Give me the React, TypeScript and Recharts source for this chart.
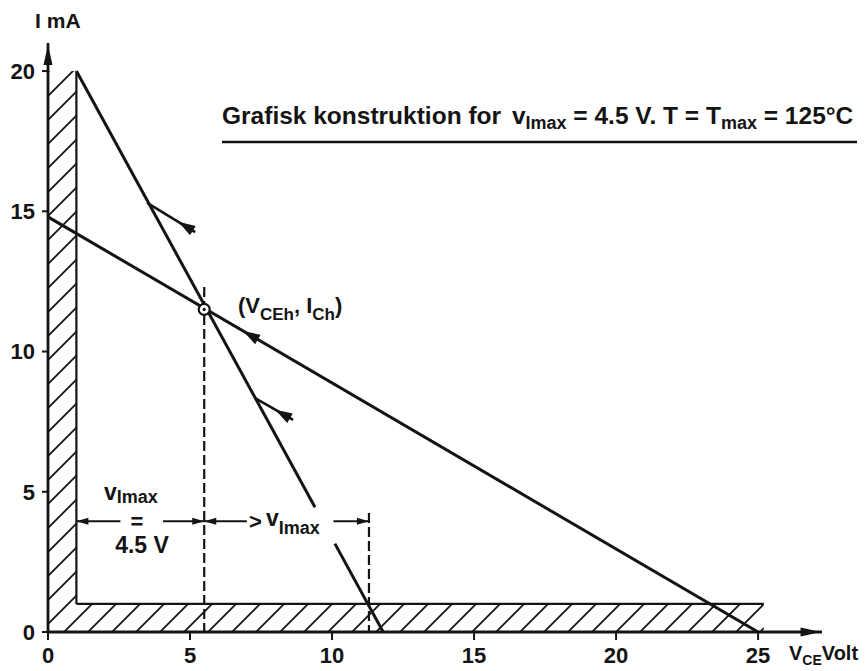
import {
  ComposedChart,
  Line,
  XAxis,
  YAxis,
  ReferenceArea,
  ReferenceLine,
  ReferenceDot,
} from "recharts";

const INK = "#141414";
const FONT = "'Liberation Sans', Arial, sans-serif";

const VCE_TICKS = [0, 5, 10, 15, 20, 25];
const I_TICKS = [0, 5, 10, 15, 20];

// steep characteristic, broken where the v_Imax label sits
const steepUpper = [
  { v: 1, i: 20 },
  { v: 9.4, i: 4.45 },
];
const steepLower = [
  { v: 10.1, i: 3.15 },
  { v: 11.8, i: 0 },
];
// load line
const loadLine = [
  { v: 0, i: 14.8 },
  { v: 25, i: 0 },
];
const opPoint = { v: 5.5, i: 11.5 };
const vImaxEdge = 11.3;
const dimLevel = 3.95;

// small direction arrows (parallel to the load line)
const dirMarks = [
  { from: { v: 3.49, i: 15.3 }, to: { v: 5.18, i: 14.26 }, tip: 0.65, line: true },
  { from: { v: 7.29, i: 8.34 }, to: { v: 8.63, i: 7.56 }, tip: 0.53, line: true },
  { from: { v: 6.87, i: 10.73 }, to: { v: 7.4, i: 10.42 }, tip: 0, line: false },
];

// dimension arrows: v_Imax = 4.5 V and > v_Imax
const dims = [
  { a: 1, b: 2.55, headA: true, headB: false },
  { a: 4.05, b: 5.5, headA: false, headB: true },
  { a: 5.5, b: 7.0, headA: true, headB: false },
  { a: 10.05, b: vImaxEdge, headA: false, headB: true },
];

function head(tx: number, ty: number, ux: number, uy: number, len: number, half: number) {
  // arrowhead with tip (tx,ty) pointing along unit (ux,uy)
  const bx = tx - ux * len;
  const by = ty - uy * len;
  const px = -uy * half;
  const py = ux * half;
  return `M${tx},${ty} L${bx + px},${by + py} L${bx - px},${by - py} Z`;
}

const dirShape = (tip: number, line: boolean) => (p: any) => {
  const { x1, y1, x2, y2 } = p;
  const dx = x1 - x2;
  const dy = y1 - y2;
  const d = Math.hypot(dx, dy) || 1;
  const tx = x1 + (x2 - x1) * tip;
  const ty = y1 + (y2 - y1) * tip;
  return (
    <g>
      {line && <line x1={x1} y1={y1} x2={x2} y2={y2} stroke={INK} strokeWidth={2.6} />}
      <path d={head(tx, ty, dx / d, dy / d, 17, 5.5)} fill={INK} />
    </g>
  );
};

const dimShape = (headA: boolean, headB: boolean) => (p: any) => {
  const { x1, y1, x2, y2 } = p;
  const d = Math.hypot(x2 - x1, y2 - y1) || 1;
  const ux = (x2 - x1) / d;
  const uy = (y2 - y1) / d;
  return (
    <g>
      <line x1={x1} y1={y1} x2={x2} y2={y2} stroke={INK} strokeWidth={2} />
      {headA && <path d={head(x1, y1, -ux, -uy, 12, 3.5)} fill={INK} />}
      {headB && <path d={head(x2, y2, ux, uy, 12, 3.5)} fill={INK} />}
    </g>
  );
};

const axisHead = (p: any) => {
  const { x1, y1, x2, y2 } = p;
  const d = Math.hypot(x2 - x1, y2 - y1) || 1;
  return <path d={head(x2, y2, (x2 - x1) / d, (y2 - y1) / d, 20, 4.5)} fill={INK} />;
};

const opShape = (p: any) => (
  <g>
    <circle cx={p.cx} cy={p.cy} r={5.5} fill="#fff" stroke={INK} strokeWidth={2.2} />
    <circle cx={p.cx} cy={p.cy} r={1.6} fill={INK} />
  </g>
);

const txt = { fill: INK, fontFamily: FONT, fontWeight: 700 } as const;

export default function App() {
  return (
    <div style={{ position: "absolute", left: 0, top: 0, background: "#fff" }}>
      <ComposedChart width={865} height={671} margin={{ top: 43, right: 43, bottom: 9, left: 8 }}>
        <defs>
          <pattern id="hatch" patternUnits="userSpaceOnUse" width="24" height="24">
            <path d="M-6,6 L6,-6 M0,24 L24,0 M18,30 L30,18" stroke={INK} strokeWidth={1.8} />
          </pattern>
        </defs>
        <XAxis
          dataKey="v"
          type="number"
          domain={[0, 27.25]}
          ticks={VCE_TICKS}
          allowDataOverflow
          height={30}
          axisLine={{ stroke: INK, strokeWidth: 2.8 }}
          tickLine={{ stroke: INK, strokeWidth: 2 }}
          tickSize={8}
          tickMargin={7}
          tick={{ ...txt, fontSize: 22 }}
        />
        <YAxis
          dataKey="i"
          type="number"
          domain={[0, 21]}
          ticks={I_TICKS}
          allowDataOverflow
          width={40}
          axisLine={{ stroke: INK, strokeWidth: 2.8 }}
          tickLine={{ stroke: INK, strokeWidth: 2 }}
          tickSize={6}
          tickMargin={7}
          tick={{ ...txt, fontSize: 22 }}
        />

        <ReferenceArea x1={0} x2={1} y1={1} y2={20} fill="url(#hatch)" fillOpacity={1} stroke="none" />
        <ReferenceArea x1={0} x2={25.2} y1={0} y2={1} fill="url(#hatch)" fillOpacity={1} stroke="none" />
        <ReferenceLine segment={[{ x: 1, y: 1 }, { x: 1, y: 20 }]} stroke={INK} strokeWidth={2.2} />
        <ReferenceLine segment={[{ x: 1, y: 1 }, { x: 25.2, y: 1 }]} stroke={INK} strokeWidth={2.2} />

        <ReferenceLine segment={[{ x: 0, y: 20.3 }, { x: 0, y: 20.93 }]} shape={axisHead} />
        <ReferenceLine segment={[{ x: 26.5, y: 0 }, { x: 27.2, y: 0 }]} shape={axisHead} />

        <ReferenceLine
          segment={[{ x: opPoint.v, y: 12.3 }, { x: opPoint.v, y: 0 }]}
          stroke={INK}
          strokeWidth={2.2}
          strokeDasharray="10 4"
        />
        <ReferenceLine
          segment={[{ x: vImaxEdge, y: 4.24 }, { x: vImaxEdge, y: 0 }]}
          stroke={INK}
          strokeWidth={2.2}
          strokeDasharray="10 4"
        />

        <Line data={steepUpper} dataKey="i" type="linear" stroke={INK} strokeWidth={3} dot={false} isAnimationActive={false} />
        <Line data={steepLower} dataKey="i" type="linear" stroke={INK} strokeWidth={3} dot={false} isAnimationActive={false} />
        <Line data={loadLine} dataKey="i" type="linear" stroke={INK} strokeWidth={3} dot={false} isAnimationActive={false} />

        {dirMarks.map((m, k) => (
          <ReferenceLine
            key={`dir${k}`}
            segment={[{ x: m.from.v, y: m.from.i }, { x: m.to.v, y: m.to.i }]}
            shape={dirShape(m.tip, m.line)}
          />
        ))}
        {dims.map((d, k) => (
          <ReferenceLine
            key={`dim${k}`}
            segment={[{ x: d.a, y: dimLevel }, { x: d.b, y: dimLevel }]}
            shape={dimShape(d.headA, d.headB)}
          />
        ))}

        <ReferenceDot x={opPoint.v} y={opPoint.i} r={5.5} shape={opShape} />

        {/* axis titles */}
        <text x={35} y={28} fontSize={21} {...txt}>
          I<tspan dx={6}>mA</tspan>
        </text>
        <text x={789} y={660} fontSize={20} {...txt}>
          V<tspan fontSize={14} dy={5}>CE</tspan>
          <tspan dy={-5}>Volt</tspan>
        </text>

        {/* title */}
        <text x={222} y={124} fontSize={24.5} {...txt}>
          {"Grafisk konstruktion for "}
          <tspan dx={4}>v</tspan>
          <tspan fontSize={18} dy={5}>Imax</tspan>
          <tspan dy={-5}>{" = 4.5 V. T = T"}</tspan>
          <tspan fontSize={18} dy={5}>max</tspan>
          <tspan dy={-5}>{" = 125°C"}</tspan>
        </text>
        <line x1={222} y1={142} x2={857} y2={142} stroke={INK} strokeWidth={2.4} />

        {/* operating point label */}
        <text x={238} y={313} fontSize={22} {...txt}>
          (V<tspan fontSize={17} dy={7}>CEh</tspan>
          <tspan dy={-7}>{", I"}</tspan>
          <tspan fontSize={17} dy={7}>Ch</tspan>
          <tspan dy={-7}>)</tspan>
        </text>

        {/* dimension labels */}
        <text x={104} y={500} fontSize={23} {...txt}>
          v<tspan fontSize={18} dy={3}>Imax</tspan>
        </text>
        <text x={137} y={529} fontSize={22} textAnchor="middle" {...txt}>=</text>
        <text x={142} y={553} fontSize={23} textAnchor="middle" {...txt}>4.5 V</text>
        <text x={249} y={529} fontSize={22} {...txt}>&gt;</text>
        <text x={266} y={526} fontSize={23} {...txt}>
          v<tspan fontSize={18} dy={8}>Imax</tspan>
        </text>
      </ComposedChart>
    </div>
  );
}
